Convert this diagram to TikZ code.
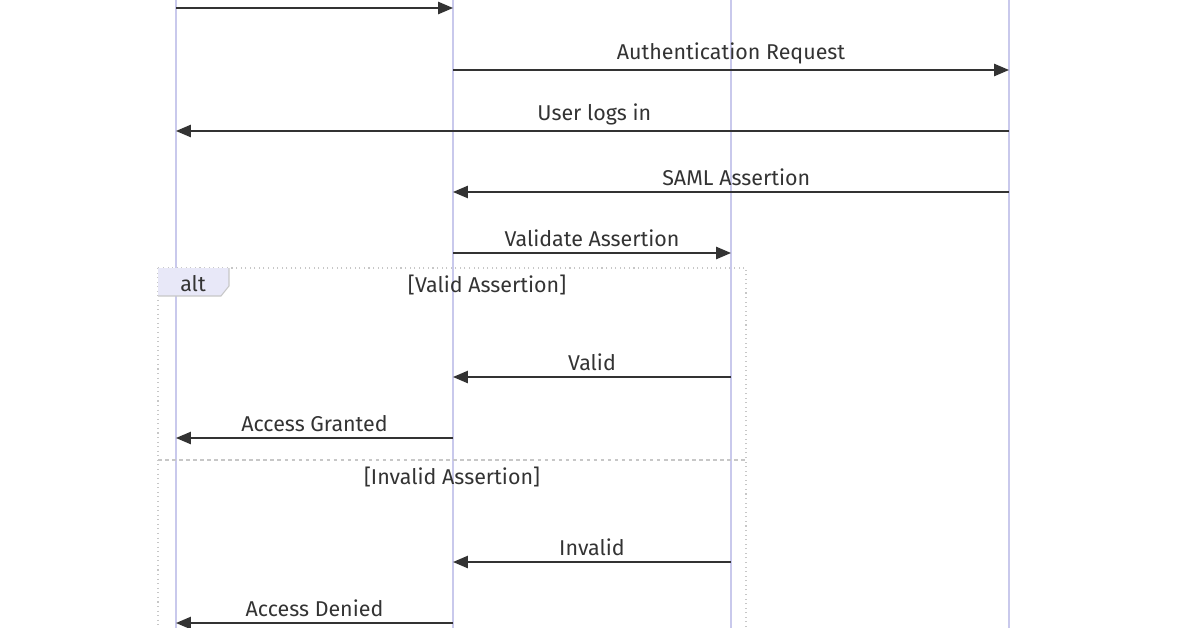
\documentclass[tikz,border=0pt]{standalone}
\usepackage{fontspec}
\setmainfont{Fira Sans}
\usetikzlibrary{arrows.meta}
\definecolor{lifeC}{HTML}{C9C9EC}
\definecolor{tabC}{HTML}{E8E8F8}
\definecolor{msgC}{HTML}{333333}
\begin{document}
\begin{tikzpicture}[x=0.02cm, y=-0.02cm,
  lifeStyle/.style={draw=lifeC, line width=0.6pt},
  msgStyle/.style={draw=msgC, line width=0.9pt, -{Triangle[length=8.5pt,width=7pt]}},
  lblStyle/.style={font=\fontsize{12.2}{14}\selectfont, text=msgC, inner sep=1pt, above=2pt},
  boxStyle/.style={draw=black!22, dotted, line width=0.6pt}]
  \useasboundingbox (0,0) rectangle (1196,628);
  % lifelines
  \coordinate (user_T) at (176,0);   \coordinate (user_B) at (176,628);
  \coordinate (app_T)  at (453,0);   \coordinate (app_B)  at (453,628);
  \coordinate (val_T)  at (731,0);   \coordinate (val_B)  at (731,628);
  \coordinate (idp_T)  at (1009,0);  \coordinate (idp_B)  at (1009,628);
  \draw[lifeStyle] (user_T) -- (user_B);
  \draw[lifeStyle] (app_T) -- (app_B);
  \draw[lifeStyle] (val_T) -- (val_B);
  \draw[lifeStyle] (idp_T) -- (idp_B);

  % alt frame
  \coordinate (alt_NW) at (158,268);
  \coordinate (alt_SE) at (746,640);
  \draw[boxStyle] (alt_NW) rectangle (alt_SE);
  \fill[tabC] (158,268) -- (229,268) -- (229,286) -- (221,296) -- (158,296) -- cycle;
  \draw[black!22, line width=0.6pt] (229,268) -- (229,286) -- (221,296) -- (158,296);
  \node[font=\fontsize{12.2}{14}\selectfont, text=msgC] (alt_L) at (193,284) {alt};
  \node[font=\fontsize{12.2}{14}\selectfont, text=msgC] (cond_1) at (487,285) {[Valid Assertion]};
  \coordinate (div_W) at (158,460); \coordinate (div_E) at (746,460);
  \draw[boxStyle, dashed, dash pattern=on 2pt off 2pt] (div_W) -- (div_E);
  \node[font=\fontsize{12.2}{14}\selectfont, text=msgC] (cond_2) at (452,477) {[Invalid Assertion]};

  % messages
  \coordinate (m0_a) at (176,8);   \coordinate (m0_b) at (453,8);
  \coordinate (m1_a) at (453,70);  \coordinate (m1_b) at (1009,70);
  \coordinate (m2_a) at (1009,131);\coordinate (m2_b) at (176,131);
  \coordinate (m3_a) at (1009,192);\coordinate (m3_b) at (453,192);
  \coordinate (m4_a) at (453,253); \coordinate (m4_b) at (731,253);
  \coordinate (m5_a) at (731,377); \coordinate (m5_b) at (453,377);
  \coordinate (m6_a) at (453,438); \coordinate (m6_b) at (176,438);
  \coordinate (m7_a) at (731,562); \coordinate (m7_b) at (453,562);
  \coordinate (m8_a) at (453,623); \coordinate (m8_b) at (176,623);
  \draw[msgStyle] (m0_a) -- (m0_b);
  \draw[msgStyle] (m1_a) -- node[lblStyle]{Authentication Request} (m1_b);
  \draw[msgStyle] (m2_a) -- node[lblStyle, xshift=1pt]{User logs in} (m2_b);
  \draw[msgStyle] (m3_a) -- node[lblStyle, xshift=3pt]{SAML Assertion} (m3_b);
  \draw[msgStyle] (m4_a) -- node[lblStyle]{Validate Assertion} (m4_b);
  \draw[msgStyle] (m5_a) -- node[lblStyle]{Valid} (m5_b);
  \draw[msgStyle] (m6_a) -- node[lblStyle]{Access Granted} (m6_b);
  \draw[msgStyle] (m7_a) -- node[lblStyle]{Invalid} (m7_b);
  \draw[msgStyle] (m8_a) -- node[lblStyle]{Access Denied} (m8_b);
\end{tikzpicture}
\end{document}
